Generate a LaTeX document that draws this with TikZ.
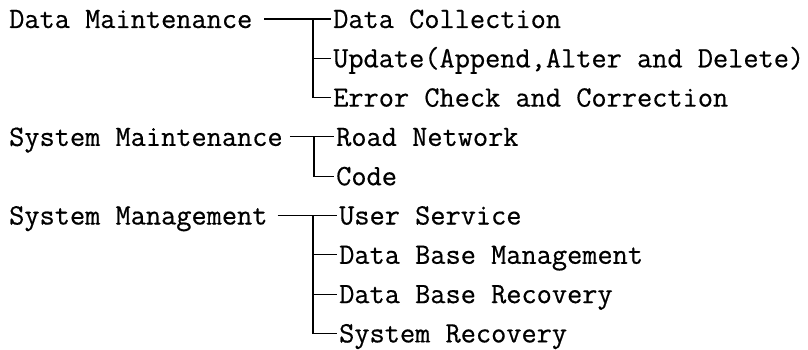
\documentclass[tikz,border=0pt]{standalone}
\usepackage{fontspec}
\setmonofont[FakeBold=0.5]{Latin Modern Mono}
\begin{document}
\begin{tikzpicture}[x=1pt,y=-1pt,
  every node/.style={inner sep=0pt, text height=18pt, text depth=0pt,
    font=\ttfamily\fontsize{29.5}{33}\selectfont},
  head/.style={anchor=west},
  item/.style={anchor=west, inner xsep=2pt},
  link/.style={line width=1.2pt, line cap=butt}]
\useasboundingbox (0,0) rectangle (808,350);
\def\rowy#1{19+39.3*#1}
% group headings
\node[head] (dm)  at (9,{\rowy{0}}) {Data Maintenance};
\node[head] (sm)  at (9,{\rowy{3}}) {System Maintenance};
\node[head] (smg) at (9,{\rowy{5}}) {System Management};
% Data Maintenance tasks
\node[item] (d1) at (331,{\rowy{0}}) {Data Collection};
\node[item] (d2) at (331,{\rowy{1}}) {Update(Append,Alter and Delete)};
\node[item] (d3) at (331,{\rowy{2}}) {Error Check and Correction};
% System Maintenance tasks
\node[item] (s1) at (334,{\rowy{3}}) {Road Network};
\node[item] (s2) at (334,{\rowy{4}}) {Code};
% System Management tasks
\node[item] (m1) at (337,{\rowy{5}}) {User Service};
\node[item] (m2) at (337,{\rowy{6}}) {Data Base Management};
\node[item] (m3) at (337,{\rowy{7}}) {Data Base Recovery};
\node[item] (m4) at (337,{\rowy{8}}) {System Recovery};
% spine x-positions
\coordinate (dv) at (313,0);
\coordinate (sv) at (314,0);
\coordinate (mv) at (313,0);
% Data Maintenance bracket
\draw[link, shorten <=12pt] (dm.east) -- (d1.west);
\draw[link] (dv |- d1.west) -- (dv |- d3.west) -- (d3.west);
\draw[link] (dv |- d2.west) -- (d2.west);
% System Maintenance bracket
\draw[link, shorten <=7pt] (sm.east) -- (s1.west);
\draw[link] (sv |- s1.west) -- (sv |- s2.west) -- (s2.west);
% System Management bracket
\draw[link, shorten <=10pt] (smg.east) -- (m1.west);
\draw[link] (mv |- m1.west) -- (mv |- m4.west) -- (m4.west);
\draw[link] (mv |- m2.west) -- (m2.west);
\draw[link] (mv |- m3.west) -- (m3.west);
\end{tikzpicture}
\end{document}
